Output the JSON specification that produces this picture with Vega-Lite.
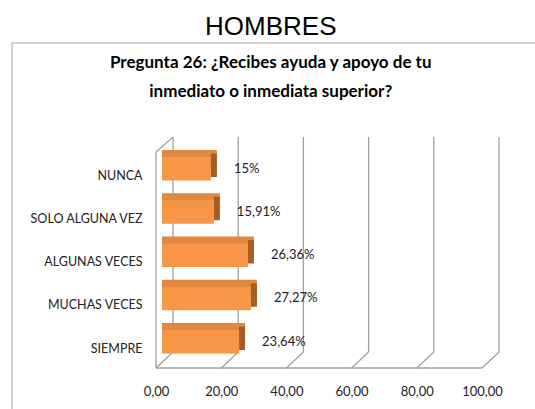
{
  "$schema": "https://vega.github.io/schema/vega-lite/v6.json",
  "width": 526.5,
  "height": 369.5,
  "autosize": {"type": "none"},
  "padding": {"left": 11.5, "top": 42.5, "right": -3, "bottom": -3},
  "background": "white",
  "config": {
    "view": {"stroke": "#a6a6a6", "strokeWidth": 1}
  },
  "title": {
    "text": "HOMBRES",
    "subtitle": ["Pregunta 26: ¿Recibes ayuda y apoyo de tu", "inmediato o inmediata superior?"],
    "anchor": "middle",
    "frame": "group",
    "dx": -4,
    "offset": -57.5,
    "font": "Liberation Sans",
    "fontSize": 26,
    "fontWeight": "normal",
    "color": "#000000",
    "subtitleFont": "Lato",
    "subtitleFontSize": 17,
    "subtitleFontWeight": "bold",
    "subtitleColor": "#000000",
    "subtitleLineHeight": 29,
    "subtitlePadding": 15
  },
  "datasets": {
    "resp": [
      {"respuesta": "NUNCA", "valor": 15, "etiqueta": "15%"},
      {"respuesta": "SOLO ALGUNA VEZ", "valor": 15.91, "etiqueta": "15,91%"},
      {"respuesta": "ALGUNAS VECES", "valor": 26.36, "etiqueta": "26,36%"},
      {"respuesta": "MUCHAS VECES", "valor": 27.27, "etiqueta": "27,27%"},
      {"respuesta": "SIEMPRE", "valor": 23.64, "etiqueta": "23,64%"}
    ],
    "ticks": [{"t": 0}, {"t": 20}, {"t": 40}, {"t": 60}, {"t": 80}, {"t": 100}],
    "one": [{"k": 1}]
  },
  "layer": [
    {
      "data": {"name": "ticks"},
      "mark": {"type": "rule", "color": "#a0a0a0", "strokeWidth": 1.3, "xOffset": 11, "yOffset": -31.75, "y2Offset": 10.25},
      "encoding": {
        "x": {"field": "t", "type": "quantitative", "scale": {"domain": [0, 100], "range": [150.5, 476.5], "nice": false, "zero": true},
          "axis": {"values": [0, 20, 40, 60, 80, 100], "labelExpr": "replace(format(datum.value, '.2f'), '.', ',')", "grid": false, "domain": false, "ticks": false, "title": null, "offset": -27, "labelPadding": 0, "labelOffset": -6, "labelFont": "Lato", "labelFontSize": 13, "labelColor": "#222222", "labelFlush": false, "labelOverlap": false}},
        "y": {"datum": "NUNCA", "type": "nominal", "scale": {"domain": ["NUNCA", "SOLO ALGUNA VEZ", "ALGUNAS VECES", "MUCHAS VECES", "SIEMPRE"], "range": [104.62, 320.87], "paddingInner": 0.457, "paddingOuter": 0.2285},
          "axis": {"title": null, "domain": false, "ticks": false, "grid": false, "offset": -130.5, "labelPadding": 0, "labelOffset": 7, "labelFont": "Lato", "labelFontSize": 12.5, "labelColor": "#222222", "labelLimit": 300}},
        "y2": {"datum": "SIEMPRE"}
      }
    },
    {
      "data": {"name": "ticks"},
      "mark": {"type": "rule", "color": "#a0a0a0", "strokeWidth": 1.3, "xOffset": -6, "x2Offset": 11, "yOffset": 26.25, "y2Offset": 10.25},
      "encoding": {
        "x": {"field": "t", "type": "quantitative",
          "axis": {"values": [0, 20, 40, 60, 80, 100], "labelExpr": "replace(format(datum.value, '.2f'), '.', ',')", "grid": false, "domain": false, "ticks": false, "title": null, "offset": -27, "labelPadding": 0, "labelOffset": -6, "labelFont": "Lato", "labelFontSize": 13, "labelColor": "#222222", "labelFlush": false, "labelOverlap": false}},
        "x2": {"field": "t"},
        "y": {"datum": "SIEMPRE", "type": "nominal",
          "axis": {"title": null, "domain": false, "ticks": false, "grid": false, "offset": -130.5, "labelPadding": 0, "labelOffset": 7, "labelFont": "Lato", "labelFontSize": 12.5, "labelColor": "#222222", "labelLimit": 300}},
        "y2": {"datum": "SIEMPRE"}
      }
    },
    {
      "data": {"name": "one"},
      "mark": {"type": "rule", "color": "#a0a0a0", "strokeWidth": 1.3, "xOffset": -6, "x2Offset": -6, "yOffset": 26.25},
      "encoding": {
        "x": {"datum": 0, "type": "quantitative",
          "axis": {"values": [0, 20, 40, 60, 80, 100], "labelExpr": "replace(format(datum.value, '.2f'), '.', ',')", "grid": false, "domain": false, "ticks": false, "title": null, "offset": -27, "labelPadding": 0, "labelOffset": -6, "labelFont": "Lato", "labelFontSize": 13, "labelColor": "#222222", "labelFlush": false, "labelOverlap": false}},
        "x2": {"datum": 100},
        "y": {"datum": "SIEMPRE", "type": "nominal",
          "axis": {"title": null, "domain": false, "ticks": false, "grid": false, "offset": -130.5, "labelPadding": 0, "labelOffset": 7, "labelFont": "Lato", "labelFontSize": 12.5, "labelColor": "#222222", "labelLimit": 300}}
      }
    },
    {
      "data": {"name": "one"},
      "mark": {"type": "rule", "color": "#a0a0a0", "strokeWidth": 1.3, "xOffset": -6, "yOffset": -16.75, "y2Offset": 26.25},
      "encoding": {
        "x": {"datum": 0, "type": "quantitative",
          "axis": {"values": [0, 20, 40, 60, 80, 100], "labelExpr": "replace(format(datum.value, '.2f'), '.', ',')", "grid": false, "domain": false, "ticks": false, "title": null, "offset": -27, "labelPadding": 0, "labelOffset": -6, "labelFont": "Lato", "labelFontSize": 13, "labelColor": "#222222", "labelFlush": false, "labelOverlap": false}},
        "y": {"datum": "NUNCA", "type": "nominal",
          "axis": {"title": null, "domain": false, "ticks": false, "grid": false, "offset": -130.5, "labelPadding": 0, "labelOffset": 7, "labelFont": "Lato", "labelFontSize": 12.5, "labelColor": "#222222", "labelLimit": 300}},
        "y2": {"datum": "SIEMPRE"}
      }
    },
    {
      "data": {"name": "one"},
      "mark": {"type": "rule", "color": "#a0a0a0", "strokeWidth": 1.3, "xOffset": -6, "x2Offset": 11, "yOffset": -16.75, "y2Offset": -31.75},
      "encoding": {
        "x": {"datum": 0, "type": "quantitative",
          "axis": {"values": [0, 20, 40, 60, 80, 100], "labelExpr": "replace(format(datum.value, '.2f'), '.', ',')", "grid": false, "domain": false, "ticks": false, "title": null, "offset": -27, "labelPadding": 0, "labelOffset": -6, "labelFont": "Lato", "labelFontSize": 13, "labelColor": "#222222", "labelFlush": false, "labelOverlap": false}},
        "x2": {"datum": 0},
        "y": {"datum": "NUNCA", "type": "nominal",
          "axis": {"title": null, "domain": false, "ticks": false, "grid": false, "offset": -130.5, "labelPadding": 0, "labelOffset": 7, "labelFont": "Lato", "labelFontSize": 12.5, "labelColor": "#222222", "labelLimit": 300}},
        "y2": {"datum": "NUNCA"}
      }
    },
    {
      "data": {"name": "resp"},
      "mark": {"type": "bar", "color": "#E0883F", "xOffset": 6, "x2Offset": 6, "yOffset": -7, "y2Offset": -7},
      "encoding": {
        "x": {"field": "valor", "type": "quantitative", "stack": null,
          "axis": {"values": [0, 20, 40, 60, 80, 100], "labelExpr": "replace(format(datum.value, '.2f'), '.', ',')", "grid": false, "domain": false, "ticks": false, "title": null, "offset": -27, "labelPadding": 0, "labelOffset": -6, "labelFont": "Lato", "labelFontSize": 13, "labelColor": "#222222", "labelFlush": false, "labelOverlap": false}},
        "y": {"field": "respuesta", "type": "nominal",
          "axis": {"title": null, "domain": false, "ticks": false, "grid": false, "offset": -130.5, "labelPadding": 0, "labelOffset": 7, "labelFont": "Lato", "labelFontSize": 12.5, "labelColor": "#222222", "labelLimit": 300}}
      }
    },
    {
      "data": {"name": "resp"},
      "mark": {"type": "bar", "color": "#A65E29", "x2Offset": 6, "yOffset": -3.5, "y2Offset": -3.5},
      "encoding": {
        "x": {"field": "valor", "type": "quantitative",
          "axis": {"values": [0, 20, 40, 60, 80, 100], "labelExpr": "replace(format(datum.value, '.2f'), '.', ',')", "grid": false, "domain": false, "ticks": false, "title": null, "offset": -27, "labelPadding": 0, "labelOffset": -6, "labelFont": "Lato", "labelFontSize": 13, "labelColor": "#222222", "labelFlush": false, "labelOverlap": false}},
        "x2": {"field": "valor"},
        "y": {"field": "respuesta", "type": "nominal",
          "axis": {"title": null, "domain": false, "ticks": false, "grid": false, "offset": -130.5, "labelPadding": 0, "labelOffset": 7, "labelFont": "Lato", "labelFontSize": 12.5, "labelColor": "#222222", "labelLimit": 300}}
      }
    },
    {
      "data": {"name": "resp"},
      "mark": {"type": "bar", "color": "#F79646"},
      "encoding": {
        "x": {"field": "valor", "type": "quantitative", "stack": null,
          "axis": {"values": [0, 20, 40, 60, 80, 100], "labelExpr": "replace(format(datum.value, '.2f'), '.', ',')", "grid": false, "domain": false, "ticks": false, "title": null, "offset": -27, "labelPadding": 0, "labelOffset": -6, "labelFont": "Lato", "labelFontSize": 13, "labelColor": "#222222", "labelFlush": false, "labelOverlap": false}},
        "y": {"field": "respuesta", "type": "nominal",
          "axis": {"title": null, "domain": false, "ticks": false, "grid": false, "offset": -130.5, "labelPadding": 0, "labelOffset": 7, "labelFont": "Lato", "labelFontSize": 12.5, "labelColor": "#222222", "labelLimit": 300}}
      }
    },
    {
      "data": {"name": "resp"},
      "mark": {"type": "text", "align": "left", "baseline": "middle", "dx": 23, "font": "Lato", "fontSize": 13, "color": "#222222"},
      "encoding": {
        "x": {"field": "valor", "type": "quantitative",
          "axis": {"values": [0, 20, 40, 60, 80, 100], "labelExpr": "replace(format(datum.value, '.2f'), '.', ',')", "grid": false, "domain": false, "ticks": false, "title": null, "offset": -27, "labelPadding": 0, "labelOffset": -6, "labelFont": "Lato", "labelFontSize": 13, "labelColor": "#222222", "labelFlush": false, "labelOverlap": false}},
        "y": {"field": "respuesta", "type": "nominal",
          "axis": {"title": null, "domain": false, "ticks": false, "grid": false, "offset": -130.5, "labelPadding": 0, "labelOffset": 7, "labelFont": "Lato", "labelFontSize": 12.5, "labelColor": "#222222", "labelLimit": 300}},
        "text": {"field": "etiqueta"}
      }
    }
  ]
}
